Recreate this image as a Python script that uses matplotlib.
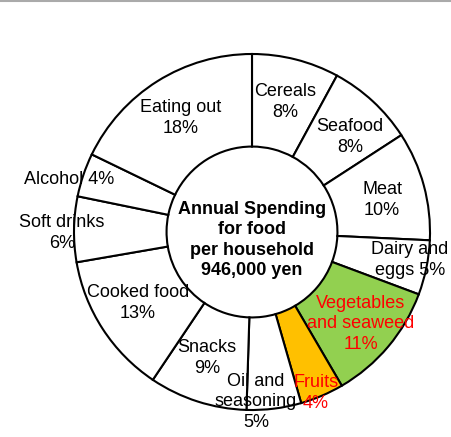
import matplotlib
matplotlib.use('Agg')
import matplotlib.pyplot as plt
from matplotlib.lines import Line2D

plt.rcParams['font.family'] = ['Liberation Sans', 'DejaVu Sans']

categories = ['Cereals', 'Seafood', 'Meat', 'Dairy and\neggs', 'Vegetables\nand seaweed',
              'Fruits', 'Oil and\nseasoning', 'Snacks', 'Cooked food', 'Soft drinks',
              'Alcohol', 'Eating out']
shares = [8, 8, 10, 5, 11, 4, 5, 9, 13, 6, 4, 18]
colors = ['white'] * 12
colors[4] = '#92D050'
colors[5] = '#FFC000'
text_colors = ['black'] * 12
text_colors[4] = 'red'
text_colors[5] = 'red'

# label layout in pixel coords (x, y from top)
label_pos = [(285, 102), (350, 137), (382, 200), (410, 260), (361, 324), (316, 393),
             (256, 402), (207, 358), (138, 303), (62, 233), (69, 180), (181, 118)]
label_text = ['Cereals\n8%', 'Seafood\n8%', 'Meat\n10%', 'Dairy and\neggs 5%',
              'Vegetables\nand seaweed\n11%', 'Fruits\n4%', 'Oil and\nseasoning\n5%',
              'Snacks\n9%', 'Cooked food\n13%', 'Soft drinks\n6%', 'Alcohol 4%',
              'Eating out\n18%']

W, H = 451, 437
fig = plt.figure(figsize=(W / 100, H / 100), dpi=100)
ax = fig.add_axes([0, 0, 1, 1])
ax.set_xlim(0, W)
ax.set_ylim(0, H)
ax.set_aspect('equal')
ax.axis('off')

cx, cy, r = 252, H - 232, 178
ax.pie(shares, colors=colors, startangle=90, counterclock=False, center=(cx, cy), radius=r,
       wedgeprops=dict(width=r * 0.52, edgecolor='black', linewidth=1.5))
ax.set_xlim(0, W)
ax.set_ylim(0, H)

for (x, y), t, c in zip(label_pos, label_text, text_colors):
    ax.text(x, H - y, t, ha='center', va='center', fontsize=13, color=c, linespacing=1.27)

ax.text(cx, H - 240, 'Annual Spending\nfor food\nper household\n946,000 yen', ha='center', va='center',
        fontsize=13, fontweight='bold', linespacing=1.28)

fig.add_artist(Line2D([0, 1], [0.998, 0.998], color='#aaaaaa', linewidth=1.5, transform=fig.transFigure))

fig.savefig('out.png', dpi=100)
